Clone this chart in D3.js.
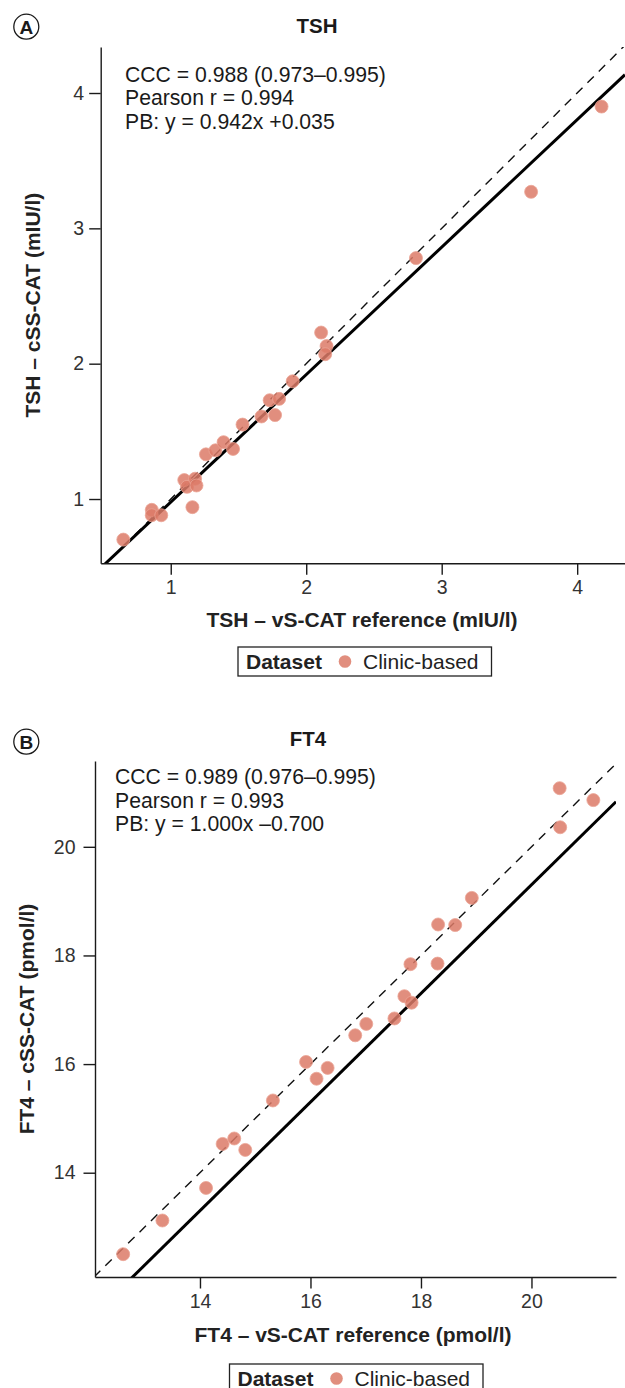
<!DOCTYPE html>
<html>
<head>
<meta charset="utf-8">
<script src="https://cdn.jsdelivr.net/npm/d3@7"></script>
<style>
  body { margin: 0; background: #fff; }
  svg { display: block; font-family: "Liberation Sans", Arial, Helvetica, sans-serif; }
</style>
</head>
<body>
<svg id="chart"></svg>
<script>
// TSH: reference (vS-CAT) vs candidate (cSS-CAT), mIU/l
const tshRef = [0.65, 0.86, 0.86, 0.93, 1.16, 1.10, 1.12, 1.18, 1.19, 1.26, 1.33, 1.39, 1.46,
                1.53, 1.67, 1.77, 1.73, 1.80, 1.90, 2.11, 2.15, 2.14, 2.81, 3.66, 4.18];
const tshCss = [0.70, 0.92, 0.88, 0.88, 0.94, 1.14, 1.09, 1.15, 1.10, 1.33, 1.36, 1.42, 1.37,
                1.55, 1.61, 1.62, 1.73, 1.74, 1.87, 2.23, 2.13, 2.07, 2.78, 3.27, 3.90];
const tshTicks = [1, 2, 3, 4];
const tshStats = ["CCC = 0.988 (0.973\u20130.995)", "Pearson r = 0.994", "PB: y = 0.942x +0.035"];
const tshFit = [0.942, 0.035];

// FT4: reference vs candidate, pmol/l
const ft4Ref = [12.61, 13.32, 14.11, 14.41, 14.62, 14.82, 15.32, 15.92, 16.11, 16.31, 16.81, 17.01,
                17.52, 17.70, 17.83, 17.81, 18.30, 18.31, 18.62, 18.92, 20.51, 20.52, 21.12];
const ft4Css = [12.50, 13.12, 13.72, 14.53, 14.63, 14.42, 15.33, 16.04, 15.73, 15.93, 16.53, 16.74,
                16.84, 17.25, 17.13, 17.84, 17.85, 18.57, 18.56, 19.06, 21.08, 20.36, 20.86];
const ft4Ticks = [14, 16, 18, 20];
const ft4Stats = ["CCC = 0.989 (0.976\u20130.995)", "Pearson r = 0.993", "PB: y = 1.000x \u20130.700"];
const ft4Fit = [1.000, -0.700];

const width = 625;
const height = 1388;
const pointColor = "#dc7a67";

const svg = d3.select("#chart")
    .attr("width", width)
    .attr("height", height);

function drawPanel(p) {
    const x = d3.scaleLinear().domain(p.xDomain).range(p.xRange);
    const y = d3.scaleLinear().domain(p.yDomain).range(p.yRange);

    const g = svg.append("g");

    g.append("clipPath")
        .attr("id", p.id + "-clip")
        .append("rect")
        .attr("x", p.xRange[0])
        .attr("y", p.yRange[1])
        .attr("width", p.xRange[1] - p.xRange[0])
        .attr("height", p.yRange[0] - p.yRange[1]);

    const plot = g.append("g").attr("clip-path", `url(#${p.id}-clip)`);

    // line of identity
    const lo = Math.min(p.xDomain[0], p.yDomain[0]);
    const hi = Math.max(p.xDomain[1], p.yDomain[1]);
    plot.append("line")
        .attr("x1", x(lo)).attr("y1", y(lo))
        .attr("x2", x(hi)).attr("y2", y(hi))
        .attr("stroke", "#111")
        .attr("stroke-width", 1.4)
        .attr("stroke-dasharray", "9,7");

    // Passing-Bablok fit
    const fx0 = p.xDomain[0], fx1 = p.xDomain[1];
    plot.append("line")
        .attr("x1", x(fx0)).attr("y1", y(p.fit[0] * fx0 + p.fit[1]))
        .attr("x2", x(fx1)).attr("y2", y(p.fit[0] * fx1 + p.fit[1]))
        .attr("stroke", "#000")
        .attr("stroke-width", 3);

    plot.selectAll("circle.pt")
        .data(d3.range(p.ref.length))
        .enter().append("circle")
        .attr("class", "pt")
        .attr("cx", i => x(p.ref[i]))
        .attr("cy", i => y(p.css[i]))
        .attr("r", 6.5)
        .attr("fill", pointColor)
        .attr("fill-opacity", 0.85)
        .attr("stroke", "#eba596")
        .attr("stroke-width", 0.8);

    // axes
    const xAxis = g.append("g")
        .attr("transform", `translate(0, ${p.yRange[0]})`)
        .call(d3.axisBottom(x).tickValues(p.ticks).tickFormat(d3.format("d"))
            .tickSize(11.5).tickSizeOuter(0).tickPadding(p.xPad));
    const yAxis = g.append("g")
        .attr("transform", `translate(${p.xRange[0]}, 0)`)
        .call(d3.axisLeft(y).tickValues(p.ticks).tickFormat(d3.format("d"))
            .tickSize(11.5).tickSizeOuter(0).tickPadding(p.yPad));

    [xAxis, yAxis].forEach(a => {
        a.select(".domain").attr("stroke", "#1a1a1a").attr("stroke-width", 1.4);
        a.selectAll(".tick line").attr("stroke", "#1a1a1a").attr("stroke-width", 1.4);
        a.selectAll(".tick text")
            .attr("fill", "#333")
            .style("font-size", "19.5px")
            .style("font-family", "'Liberation Sans', Arial, sans-serif");
    });

    // stats box
    g.append("g").selectAll("text")
        .data(p.stats)
        .enter().append("text")
        .attr("x", p.statsX)
        .attr("y", (d, i) => p.statsY + i * 23.5)
        .attr("fill", "#1a1a1a")
        .style("font-size", "21.2px")
        .text(d => d);

    // titles
    g.append("text")
        .attr("x", p.titleX).attr("y", p.titleY)
        .attr("text-anchor", "middle")
        .attr("font-weight", "bold")
        .style("font-size", "20.5px")
        .attr("fill", "#1a1a1a")
        .text(p.title);

    g.append("circle")
        .attr("cx", 26.3).attr("cy", p.tagY)
        .attr("r", 12.5)
        .attr("fill", "none")
        .attr("stroke", "#1a1a1a")
        .attr("stroke-width", 1.3);
    g.append("text")
        .attr("x", 26.3).attr("y", p.tagY + 6.8)
        .attr("text-anchor", "middle")
        .attr("font-weight", "bold")
        .style("font-size", "19px")
        .attr("fill", "#1a1a1a")
        .text(p.tag);

    g.append("text")
        .attr("x", p.xTitleX).attr("y", p.xTitleY)
        .attr("text-anchor", "middle")
        .attr("font-weight", "bold")
        .style("font-size", "21px")
        .attr("fill", "#222")
        .text(p.xLabel);

    g.append("text")
        .attr("transform", `translate(${p.yTitleX}, ${(p.yRange[0] + p.yRange[1]) / 2}) rotate(-90)`)
        .attr("text-anchor", "middle")
        .attr("font-weight", "bold")
        .style("font-size", "21px")
        .attr("fill", "#222")
        .text(p.yLabel);

    // legend
    const lg = g.append("g");
    lg.append("rect")
        .attr("x", p.legend[0]).attr("y", p.legend[1])
        .attr("width", 253.5).attr("height", 29)
        .attr("fill", "#fff")
        .attr("stroke", "#222")
        .attr("stroke-width", 1.3);
    lg.append("text")
        .attr("x", p.legend[0] + 8).attr("y", p.legend[1] + 22)
        .attr("font-weight", "bold")
        .style("font-size", "21px")
        .attr("fill", "#222")
        .text("Dataset");
    lg.append("circle")
        .attr("cx", p.legend[0] + 107).attr("cy", p.legend[1] + 14.5)
        .attr("r", 6.3)
        .attr("fill", pointColor)
        .attr("fill-opacity", 0.85);
    lg.append("text")
        .attr("x", p.legend[0] + 125).attr("y", p.legend[1] + 22)
        .style("font-size", "21px")
        .attr("fill", "#222")
        .text("Clinic-based");
}

drawPanel({
    id: "tsh", tag: "A", tagY: 26.7, title: "TSH", titleX: 317, titleY: 33,
    ref: tshRef, css: tshCss, ticks: tshTicks, stats: tshStats, fit: tshFit,
    xDomain: [0.483, 4.353], xRange: [100.7, 625],
    yDomain: [0.525, 4.34], yRange: [563.3, 47],
    xPad: 5, yPad: 5, statsX: 125, statsY: 81.7,
    xLabel: "TSH \u2013 vS-CAT reference (mIU/l)", xTitleX: 362, xTitleY: 627,
    yLabel: "TSH \u2013 cSS-CAT (mIU/l)", yTitleX: 40,
    legend: [238, 647]
});

drawPanel({
    id: "ft4", tag: "B", tagY: 741.7, title: "FT4", titleX: 308, titleY: 746,
    ref: ft4Ref, css: ft4Css, ticks: ft4Ticks, stats: ft4Stats, fit: ft4Fit,
    xDomain: [12.10, 21.53], xRange: [95, 616],
    yDomain: [12.08, 21.58], yRange: [1277, 761],
    xPad: 6, yPad: 8, statsX: 115, statsY: 784,
    xLabel: "FT4 \u2013 vS-CAT reference (pmol/l)", xTitleX: 353, xTitleY: 1342,
    yLabel: "FT4 \u2013 cSS-CAT (pmol/l)", yTitleX: 34,
    legend: [229.5, 1364]
});
</script>
</body>
</html>
